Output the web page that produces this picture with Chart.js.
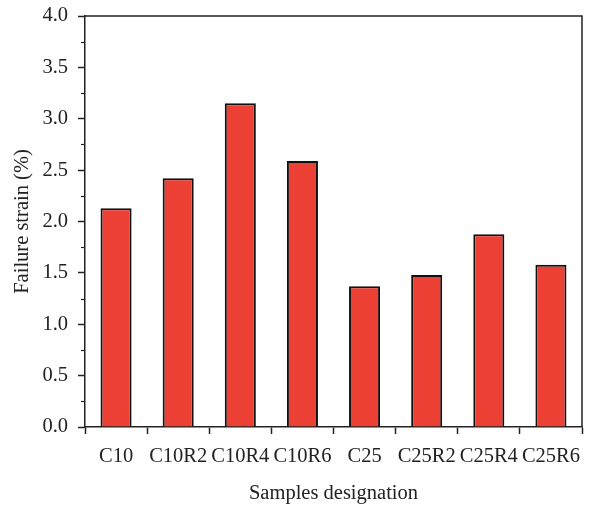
<!DOCTYPE html>
<html>
<head>
<meta charset="utf-8">
<script src="https://cdn.jsdelivr.net/npm/chart.js@4/dist/chart.umd.min.js"></script>
<style>
  html, body { margin: 0; padding: 0; background: #fff; }
  #wrap { width: 597px; height: 511px; }
</style>
</head>
<body>
<div id="wrap"><canvas id="c" width="597" height="511"></canvas></div>
<script>
// Failure strain of each sample group
const categories = ['C10', 'C10R2', 'C10R4', 'C10R6', 'C25', 'C25R2', 'C25R4', 'C25R6'];
const failureStrain = [2.13, 2.42, 3.15, 2.59, 1.37, 1.48, 1.875, 1.58];
const yMin = 0, yMax = 4.0, yStep = 0.5;

const FONT = "'Liberation Serif', 'Times New Roman', serif";
const INK = '#222';
const FS = 20.5;

// Draws the top/right frame lines and the short minor ticks on the y axis
const framePlugin = {
  id: 'frame',
  afterDraw(chart) {
    const { ctx, chartArea: a } = chart;
    const y = chart.scales.y;
    ctx.save();
    ctx.strokeStyle = INK;
    ctx.lineWidth = 1.5;
    ctx.beginPath();
    ctx.moveTo(a.left, a.top);
    ctx.lineTo(a.right, a.top);
    ctx.lineTo(a.right, a.bottom);
    ctx.stroke();
    ctx.lineWidth = 1.2;
    for (let v = yMin + yStep / 2; v < yMax; v += yStep) {
      const py = Math.round(y.getPixelForValue(v)) + 0.5;
      ctx.beginPath();
      ctx.moveTo(a.left - 4, py);
      ctx.lineTo(a.left, py);
      ctx.stroke();
    }
    ctx.restore();
  }
};

new Chart(document.getElementById('c'), {
  type: 'bar',
  data: {
    labels: categories,
    datasets: [{
      data: failureStrain,
      backgroundColor: '#ec4035',
      borderColor: '#111',
      borderWidth: 2,
      categoryPercentage: 1.0,
      barPercentage: 0.5
    }]
  },
  options: {
    responsive: false,
    animation: false,
    layout: { padding: { top: 16, right: 15, left: 0, bottom: 0 } },
    plugins: { legend: { display: false }, tooltip: { enabled: false } },
    scales: {
      x: {
        afterFit(s) { s.height = 84; s.paddingLeft = 0; s.paddingRight = 0; },
        grid: { display: true, drawOnChartArea: false, drawTicks: true, tickLength: 7, tickWidth: 1.5, tickColor: INK, offset: true },
        border: { display: true, color: INK, width: 1.5 },
        ticks: { color: '#222', font: { family: FONT, size: FS }, padding: 10, maxRotation: 0, autoSkip: false },
        title: { display: true, text: 'Samples designation', color: '#222', font: { family: FONT, size: FS }, padding: { top: 0, bottom: 5 } }
      },
      y: {
        min: yMin, max: yMax,
        afterFit(s) { s.width = 85; s.paddingTop = 0; s.paddingBottom = 0; },
        grid: { display: true, drawOnChartArea: false, drawTicks: true, tickLength: 7, tickWidth: 1.5, tickColor: INK },
        border: { display: true, color: INK, width: 1.5 },
        ticks: { stepSize: yStep, color: '#222', font: { family: FONT, size: FS }, padding: 10,
                 callback: v => Number(v).toFixed(1) },
        title: { display: true, text: 'Failure strain (%)', color: '#222', font: { family: FONT, size: FS }, padding: { top: 10, bottom: 0 } }
      }
    }
  },
  plugins: [framePlugin]
});
</script>
</body>
</html>
